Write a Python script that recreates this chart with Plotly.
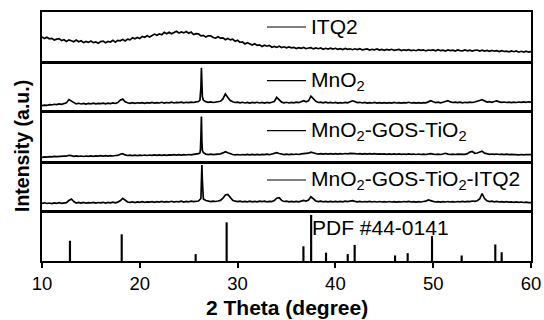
import numpy as np
import plotly.graph_objects as go

# ---------------- data ----------------
# 2-theta grid: 10.00 ... 60.00 in 0.25 degree steps (201 points)
grid_start = 10.0
grid_step = 0.25
n_grid = 201

itq2 = [
    24.5, 22.9, 24.3, 22.7, 23.2, 21.5, 22.4, 22.9, 20.9, 21.8, 20.0, 21.6, 20.8, 19.8, 21.4, 19.8, 20.7, 18.9, 20.0, 19.1,
    20.4, 18.9, 19.5, 18.2, 19.9, 20.4, 18.7, 20.0, 19.5, 21.3, 19.4, 21.1, 20.7, 22.0, 20.6, 22.4, 21.7, 23.7, 22.7, 24.0,
    22.9, 25.1, 24.3, 25.7, 24.5, 26.4, 27.4, 26.3, 27.5, 26.7, 29.2, 27.8, 29.2, 27.7, 29.4, 30.3, 28.5, 29.6, 28.6, 29.9,
    28.2, 29.4, 27.0, 27.8, 27.7, 25.7, 26.2, 24.4, 25.7, 25.7, 24.0, 23.3, 24.8, 23.3, 23.6, 21.8, 23.1, 21.6, 22.3, 20.3,
    21.2, 19.2, 19.5, 17.6, 18.8, 17.8, 16.4, 17.8, 16.1, 16.7, 15.1, 16.3, 15.3, 16.1, 14.3, 15.1, 14.1, 15.2, 14.0, 14.7,
    13.6, 14.5, 13.6, 14.2, 12.9, 13.8, 13.2, 14.1, 12.8, 13.5, 13.8, 12.6, 13.5, 12.8, 13.5, 12.2, 13.2, 12.4, 13.4, 12.4,
    13.2, 12.2, 12.8, 11.9, 13.1, 12.2, 12.7, 11.8, 12.7, 11.9, 12.8, 11.6, 12.2, 12.5, 11.4, 12.2, 11.7, 12.5, 11.4, 12.0,
    11.2, 12.1, 11.4, 12.2, 11.2, 11.7, 12.0, 10.9, 11.7, 11.1, 11.9, 11.0, 11.5, 10.8, 11.9, 11.1, 11.7, 10.6, 11.5, 11.1,
    11.6, 10.7, 11.8, 10.8, 11.3, 10.5, 11.6, 10.9, 11.4, 10.5, 11.6, 10.9, 10.6, 11.5, 10.7, 11.4, 10.4, 11.2, 11.5, 10.5,
    11.4, 10.4, 11.0, 10.1, 11.1, 10.3, 10.9, 9.9, 10.9, 10.0, 10.4, 9.7, 10.5, 9.8, 10.5, 9.3, 10.2, 9.5, 10.3, 9.3, 9.9,
]

mno2 = [
    5.3, 6.0, 5.6, 6.4, 6.1, 6.8, 6.5, 7.2, 6.8, 7.5, 8.2, 11.6, 10.0, 7.9, 7.2, 7.8, 7.1, 7.6, 7.0, 7.7,
    7.3, 7.9, 7.2, 7.7, 7.4, 8.0, 7.3, 7.9, 7.5, 8.1, 7.6, 8.6, 11.0, 12.0, 9.2, 8.3, 7.8, 8.4, 7.7, 8.3,
    7.9, 8.5, 7.8, 8.4, 8.0, 8.7, 7.9, 8.5, 8.1, 8.8, 8.0, 8.6, 8.3, 8.9, 8.1, 8.7, 8.4, 9.0, 8.3, 8.8,
    8.4, 9.0, 8.6, 9.2, 9.6, 24.0, 11.0, 9.4, 8.8, 9.2, 8.6, 9.1, 9.0, 9.8, 12.2, 17.2, 13.6, 10.6, 9.3, 8.6,
    8.9, 8.2, 8.8, 8.1, 8.7, 8.0, 8.6, 8.2, 8.8, 8.1, 8.7, 8.0, 8.6, 8.2, 8.8, 9.6, 13.8, 11.0, 8.9, 8.3,
    8.8, 8.1, 8.7, 8.2, 8.9, 8.4, 9.3, 10.4, 9.2, 10.3, 15.0, 12.4, 9.8, 8.6, 9.0, 8.3, 8.9, 8.2, 8.7, 8.1,
    8.6, 8.0, 8.5, 8.1, 8.7, 8.3, 9.4, 10.3, 9.5, 8.4, 8.8, 8.1, 8.6, 8.0, 8.5, 8.1, 8.6, 8.0, 8.4, 7.9,
    8.5, 8.0, 8.4, 7.9, 8.6, 8.1, 8.5, 7.9, 8.4, 8.2, 8.8, 8.1, 8.5, 7.9, 8.4, 8.0, 8.5, 8.2, 9.2, 10.4,
    9.3, 8.5, 8.9, 8.3, 8.8, 9.6, 10.5, 9.2, 8.6, 9.0, 8.4, 8.9, 8.3, 8.8, 8.5, 9.0, 8.6, 9.1, 9.5, 10.6,
    11.4, 9.8, 9.0, 9.4, 8.8, 9.6, 10.1, 9.2, 8.7, 9.1, 8.6, 9.0, 8.5, 9.0, 8.6, 9.1, 8.7, 9.2, 8.8, 9.3, 9.0,
]
mno2_peak_x = [26.15, 26.2, 26.3, 26.35, 26.4]
mno2_peak_y = [11.0, 15.0, 43.7, 22.0, 14.0]

mgt = [
    4.2, 4.7, 4.4, 4.9, 4.6, 5.1, 4.8, 5.2, 4.9, 5.4, 5.3, 6.2, 5.8, 5.2, 5.6, 5.1, 5.5, 5.0, 5.5, 5.1,
    5.6, 5.2, 5.7, 5.3, 5.8, 5.3, 5.8, 5.4, 5.9, 5.5, 6.0, 6.1, 7.3, 7.8, 6.6, 6.0, 6.4, 5.9, 6.3, 5.9,
    6.4, 6.0, 6.5, 6.0, 6.5, 6.1, 6.6, 6.1, 6.6, 6.2, 6.7, 6.2, 6.7, 6.3, 6.8, 6.3, 6.8, 6.4, 6.9, 6.5,
    7.0, 6.6, 7.1, 7.2, 7.8, 25.0, 8.8, 7.4, 6.9, 7.3, 6.8, 7.2, 7.0, 7.6, 8.6, 9.8, 8.7, 7.5, 7.0, 6.6,
    7.0, 6.5, 7.0, 6.6, 7.1, 6.6, 7.1, 6.7, 7.2, 6.7, 7.2, 6.8, 7.3, 6.8, 7.3, 7.6, 8.8, 8.0, 7.2, 6.9,
    7.4, 6.9, 7.4, 7.0, 7.5, 7.0, 7.6, 7.9, 7.5, 8.3, 9.4, 8.5, 7.7, 7.3, 7.8, 7.3, 7.8, 7.4, 7.9, 7.4,
    7.9, 7.4, 7.9, 7.5, 8.0, 7.6, 8.1, 8.3, 7.8, 7.5, 7.9, 7.4, 7.9, 7.4, 7.8, 7.3, 7.8, 7.3, 7.7, 7.3,
    7.7, 7.2, 7.7, 7.2, 7.6, 7.2, 7.6, 7.1, 7.5, 7.1, 7.6, 7.1, 7.5, 7.0, 7.5, 7.0, 7.4, 7.0, 7.5, 7.9,
    7.4, 7.0, 7.4, 7.0, 7.5, 8.2, 7.4, 7.0, 7.4, 7.0, 7.4, 7.1, 7.5, 7.2, 7.8, 9.4, 10.0, 8.2, 8.5, 9.6,
    10.2, 8.4, 7.6, 7.2, 7.5, 7.1, 7.5, 7.0, 7.3, 6.9, 7.3, 6.8, 7.2, 6.8, 7.1, 6.7, 7.0, 6.6, 7.0, 6.6, 6.8,
]
mgt_peak_x = [26.15, 26.2, 26.3, 26.35, 26.4]
mgt_peak_y = [8.6, 12.0, 45.0, 20.0, 11.0]

mgti = [
    7.6, 8.2, 7.5, 8.0, 7.4, 8.1, 7.6, 8.3, 7.7, 8.2, 8.4, 10.5, 12.0, 9.4, 8.0, 8.6, 7.9, 8.5, 7.8, 8.4,
    8.0, 8.6, 7.9, 8.5, 8.1, 8.7, 8.0, 8.6, 8.2, 8.8, 8.2, 8.9, 10.2, 12.7, 10.5, 9.0, 8.6, 9.2, 8.5, 9.1,
    8.7, 9.3, 8.6, 9.2, 8.8, 9.4, 8.7, 9.3, 8.9, 9.6, 8.8, 9.4, 9.0, 9.7, 8.9, 9.5, 9.1, 9.8, 9.0, 9.6,
    9.2, 9.8, 9.3, 9.9, 10.0, 12.5, 12.0, 10.5, 9.8, 9.4, 9.9, 9.5, 10.0, 10.6, 12.8, 16.0, 16.6, 13.2, 10.8, 9.8,
    9.3, 9.8, 9.2, 9.7, 9.1, 9.8, 9.2, 9.7, 9.1, 9.8, 9.3, 9.8, 9.2, 9.7, 9.4, 10.4, 12.8, 13.4, 10.6, 9.5,
    9.8, 9.2, 9.7, 9.1, 9.6, 9.2, 9.9, 10.6, 10.0, 11.0, 14.2, 12.0, 10.0, 9.4, 9.8, 9.2, 9.7, 9.1, 9.6, 9.2,
    9.7, 9.1, 9.6, 9.2, 9.8, 9.3, 9.9, 10.3, 9.6, 9.1, 9.6, 9.0, 9.5, 9.1, 9.6, 9.0, 9.5, 9.0, 9.5, 9.0,
    9.4, 9.0, 9.5, 9.0, 9.4, 8.9, 9.4, 9.0, 9.5, 9.1, 9.6, 9.0, 9.4, 8.9, 9.4, 9.0, 9.5, 9.8, 11.0, 10.6,
    9.6, 9.0, 9.4, 8.9, 9.4, 9.0, 9.5, 9.0, 9.4, 9.0, 9.5, 9.1, 9.6, 9.1, 9.7, 9.4, 10.0, 9.6, 10.2, 12.0,
    17.5, 12.5, 10.2, 9.4, 9.8, 9.2, 9.6, 9.0, 9.4, 8.9, 9.3, 8.8, 9.2, 8.7, 9.1, 8.6, 9.0, 8.5, 8.9, 8.4, 8.4,
]
mgti_peak_x = [26.3, 26.35, 26.4, 26.45]
mgti_peak_y = [22.0, 46.0, 30.0, 16.0]

pdf_pos = [12.86, 18.15, 25.71, 28.88, 36.73, 37.52, 39.04, 41.26, 41.97,
           46.10, 47.39, 49.88, 52.91, 56.35, 57.00]
pdf_int = [44, 58, 15, 84, 32, 100, 18, 15, 35, 12, 17, 54, 12, 36, 19]

labels = ["ITQ2", "MnO<sub>2</sub>", "MnO<sub>2</sub>-GOS-TiO<sub>2</sub>",
          "MnO<sub>2</sub>-GOS-TiO<sub>2</sub>-ITQ2"]
pdf_label = "PDF #44-0141"
x_ticks = [10, 20, 30, 40, 50, 60]

# ---------------- assembly ----------------
grid = np.round(grid_start + grid_step * np.arange(n_grid), 2)


def merge(yg, xp=None, yp=None):
    x = np.array(grid, dtype=float)
    y = np.array(yg, dtype=float)
    if xp is not None:
        x = np.concatenate([x, xp])
        y = np.concatenate([y, yp])
        o = np.argsort(x, kind="stable")
        x, y = x[o], y[o]
    return x, y


series = [
    merge(itq2),
    merge(mno2, mno2_peak_x, mno2_peak_y),
    merge(mgt, mgt_peak_x, mgt_peak_y),
    merge(mgti, mgti_peak_x, mgti_peak_y),
]

FONT = "Arial, Liberation Sans, sans-serif"
H = 249.0  # plot-area height in px


def pfy(px):  # pixel row -> paper y
    return (261.0 - px) / H


def pfx(px):  # pixel column -> paper x
    return (px - 42.0) / 489.0


panels = [(12, 61.5), (62.5, 111), (112, 161.5), (162.5, 211), (212, 261)]

fig = go.Figure()
for i, (x, y) in enumerate(series):
    k = i + 1
    fig.add_trace(go.Scatter(x=x, y=y, mode="lines",
                             line=dict(color="black", width=1.7),
                             xaxis=f"x{k}", yaxis=f"y{k}", showlegend=False,
                             hoverinfo="skip"))
fig.add_trace(go.Bar(x=pdf_pos, y=pdf_int, width=0.22,
                     marker=dict(color="black", line=dict(width=0)),
                     xaxis="x5", yaxis="y5", showlegend=False, hoverinfo="skip"))

layout = dict(
    width=544, height=320,
    margin=dict(l=42, r=13, t=12, b=59),
    paper_bgcolor="white", plot_bgcolor="white",
    font=dict(family=FONT, color="black"),
    showlegend=False,
)
yranges = [[0, 49.5], [0, 49], [0, 49.5], [0, 48.5], [0, 106.5]]
for i, (ptop, pbot) in enumerate(panels):
    k = i + 1
    sx = "" if k == 1 else str(k)
    xa = dict(range=[10, 60], anchor=f"y{k}", showline=True, mirror=True,
              linecolor="black", linewidth=1.5, showgrid=False, zeroline=False,
              fixedrange=True, automargin=False)
    if k < 5:
        xa.update(ticks="", showticklabels=False, matches="x5")
    else:
        xa.update(ticks="outside", ticklen=5, tickwidth=1.5, tickcolor="black",
                  tickvals=x_ticks, tickfont=dict(size=18.5, family=FONT))
    ya = dict(domain=[pfy(pbot), pfy(ptop)], range=yranges[i], anchor=f"x{k}",
              showline=True, mirror=True, linecolor="black", linewidth=1.5,
              ticks="", showticklabels=False, showgrid=False, zeroline=False,
              fixedrange=True, automargin=False)
    layout["xaxis" + sx] = xa
    layout["yaxis" + sx] = ya
fig.update_layout(**layout)

# legend-like labels in each panel
line_y = [27, 80.7, 130.7, 180]
shapes = []
annotations = []
for lab, ly in zip(labels, line_y):
    shapes.append(dict(type="line", xref="paper", yref="paper",
                       x0=pfx(267), x1=pfx(306), y0=pfy(ly), y1=pfy(ly),
                       line=dict(color="black", width=1.2)))
    annotations.append(dict(text=lab, xref="paper", yref="paper",
                            x=pfx(309), y=pfy(ly), xanchor="left", yanchor="middle",
                            showarrow=False, font=dict(size=21, family=FONT)))
annotations.append(dict(text=pdf_label, xref="paper", yref="paper",
                        x=pfx(310), y=pfy(227.5), xanchor="left", yanchor="middle",
                        showarrow=False, font=dict(size=21, family=FONT)))
annotations.append(dict(text="<b>2 Theta (degree)</b>", xref="paper", yref="paper",
                        x=0.5, y=pfy(307.5), xanchor="center", yanchor="middle",
                        showarrow=False, font=dict(size=21, family=FONT)))
annotations.append(dict(text="<b>Intensity (a.u.)</b>", xref="paper", yref="paper",
                        x=pfx(22), y=pfy(146), xanchor="center", yanchor="middle",
                        textangle=-90, showarrow=False, font=dict(size=19.5, family=FONT)))
fig.update_layout(shapes=shapes, annotations=annotations)

fig.write_html("out.html",
               config={"displayModeBar": False},
               post_script="document.body.style.margin='0';"
                           "document.body.style.overflow='hidden';")
